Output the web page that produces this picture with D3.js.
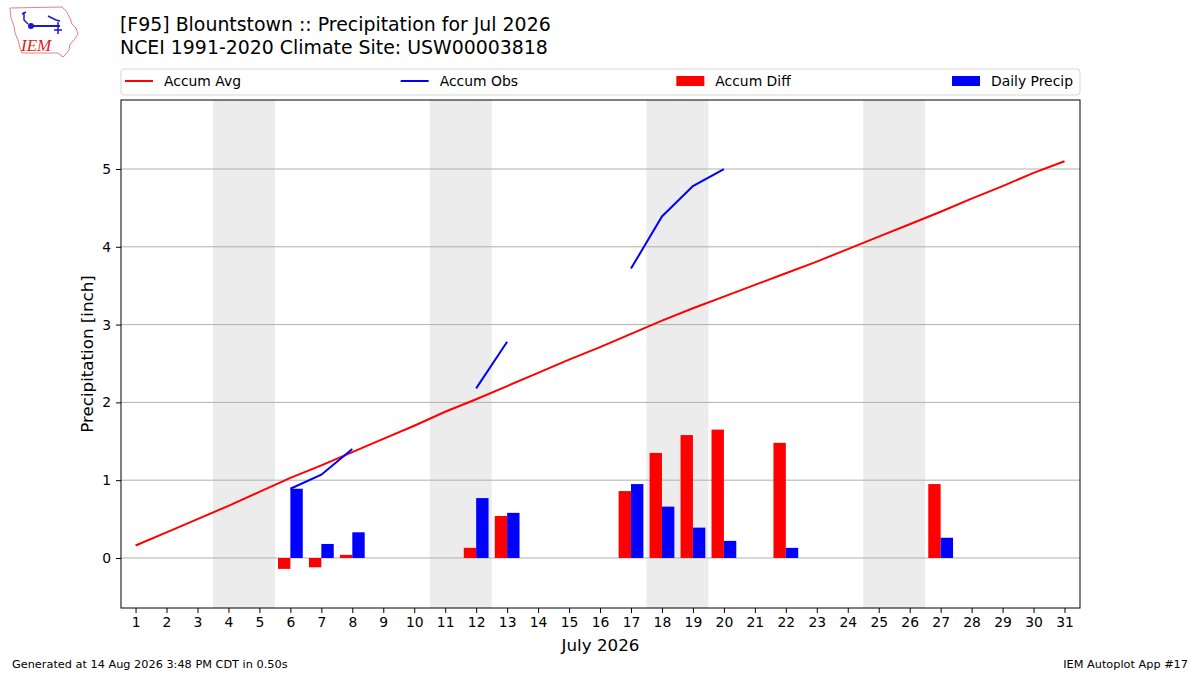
<!DOCTYPE html>
<html lang="en">
<head>
  <meta charset="UTF-8">
  <title>Blountstown Precipitation Jul 2026</title>
  <style>
    body { margin: 0; background: #fff; }
    svg { font-family: "DejaVu Sans", sans-serif; display: block; }
  </style>
</head>
<body>
  <div class="canvas"></div>

  <script src="https://cdnjs.cloudflare.com/ajax/libs/d3/7.8.5/d3.min.js"></script>
  <script>
// day of month, 1..31
const days = d3.range(1, 32);

// climatology accumulated average (inch)
const accumAvg = [0.16, 0.33, 0.50, 0.67, 0.85, 1.03, 1.19, 1.36, 1.53, 1.70,
  1.88, 2.04, 2.21, 2.38, 2.55, 2.71, 2.88, 3.05, 3.21, 3.36,
  3.51, 3.66, 3.81, 3.97, 4.13, 4.29, 4.45, 4.62, 4.78, 4.95, 5.10];

// observed accumulation, only on days with rain (null = no rain)
const accumObs = [null, null, null, null, null, 0.89, 1.07, 1.40, null, null,
  null, 2.18, 2.78, null, null, null, 3.72, 4.39, 4.78, 5.00,
  null, 5.13, null, null, null, null, 5.40, null, null, null, null];

// accumulated departure (obs - avg)
const accumDiff = [null, null, null, null, null, -0.14, -0.12, 0.04, null, null,
  null, 0.13, 0.54, null, null, null, 0.86, 1.35, 1.58, 1.65,
  null, 1.48, null, null, null, null, 0.95, null, null, null, null];

// daily precipitation
const dailyPrecip = [null, null, null, null, null, 0.89, 0.18, 0.33, null, null,
  null, 0.77, 0.58, null, null, null, 0.95, 0.66, 0.39, 0.22,
  null, 0.13, null, null, null, null, 0.26, null, null, null, null];

// weekend days (Sat/Sun pairs)
const weekends = [[4, 5], [11, 12], [18, 19], [25, 26]];

const yTicks = [0, 1, 2, 3, 4, 5];

const legendItems = [
  {label: 'Accum Avg', color: 'red', kind: 'line'},
  {label: 'Accum Obs', color: 'blue', kind: 'line'},
  {label: 'Accum Diff', color: 'red', kind: 'rect'},
  {label: 'Daily Precip', color: 'blue', kind: 'rect'}
];

const W = 1200, H = 675;
const plot = {left: 121, top: 100, right: 1080, bottom: 608};

const svg = d3.select('.canvas')
  .append('svg')
    .attr('width', W)
    .attr('height', H);

svg.append('rect').attr('width', W).attr('height', H).attr('fill', '#fff');

const x = d3.scaleLinear()
  .domain([0.53, 31.5])
  .range([plot.left, plot.right]);

const y = d3.scaleLinear()
  .domain([-0.643, 5.887])
  .range([plot.bottom, plot.top]);

// weekend shading
svg.append('g').selectAll('rect')
  .data(weekends)
  .enter().append('rect')
    .attr('x', d => x(d[0] - 0.5))
    .attr('width', d => x(d[1] + 0.5) - x(d[0] - 0.5))
    .attr('y', plot.top)
    .attr('height', plot.bottom - plot.top)
    .attr('fill', '#ececec');

// horizontal grid
svg.append('g').selectAll('line')
  .data(yTicks)
  .enter().append('line')
    .attr('x1', plot.left).attr('x2', plot.right)
    .attr('y1', d => y(d)).attr('y2', d => y(d))
    .attr('stroke', '#b0b0b0')
    .attr('stroke-width', 1);

// bars
const barW = 0.4;
const diffData = days.map((d, i) => ({day: d, v: accumDiff[i]})).filter(d => d.v !== null);
const dailyData = days.map((d, i) => ({day: d, v: dailyPrecip[i]})).filter(d => d.v !== null);

svg.append('g').selectAll('rect')
  .data(diffData)
  .enter().append('rect')
    .attr('x', d => x(d.day - barW))
    .attr('width', d => x(d.day) - x(d.day - barW))
    .attr('y', d => y(Math.max(0, d.v)))
    .attr('height', d => Math.abs(y(d.v) - y(0)))
    .attr('fill', 'red');

svg.append('g').selectAll('rect')
  .data(dailyData)
  .enter().append('rect')
    .attr('x', d => x(d.day))
    .attr('width', d => x(d.day + barW) - x(d.day))
    .attr('y', d => y(d.v))
    .attr('height', d => y(0) - y(d.v))
    .attr('fill', 'blue');

// lines
const line = d3.line()
  .defined(d => d[1] !== null)
  .x(d => x(d[0]))
  .y(d => y(d[1]));

svg.append('path')
  .datum(days.map((d, i) => [d, accumAvg[i]]))
  .attr('d', line)
  .attr('fill', 'none')
  .attr('stroke', 'red')
  .attr('stroke-width', 2);

svg.append('path')
  .datum(days.map((d, i) => [d, accumObs[i]]))
  .attr('d', line)
  .attr('fill', 'none')
  .attr('stroke', 'blue')
  .attr('stroke-width', 2);

// frame
svg.append('rect')
  .attr('x', plot.left).attr('y', plot.top)
  .attr('width', plot.right - plot.left)
  .attr('height', plot.bottom - plot.top)
  .attr('fill', 'none')
  .attr('stroke', '#000')
  .attr('stroke-width', 1);

// axes
const xAxis = d3.axisBottom(x).tickValues(days).tickSize(5).tickPadding(4);
const yAxis = d3.axisLeft(y).tickValues(yTicks).tickFormat(d3.format('d')).tickSize(5).tickPadding(5);

const xAxisGroup = svg.append('g')
  .attr('transform', `translate(0, ${plot.bottom})`)
  .call(xAxis);
const yAxisGroup = svg.append('g')
  .attr('transform', `translate(${plot.left}, 0)`)
  .call(yAxis);

[xAxisGroup, yAxisGroup].forEach(g => {
  g.select('.domain').remove();
  g.selectAll('text')
    .attr('font-family', '"DejaVu Sans", sans-serif')
    .attr('font-size', 13.9)
    .attr('fill', '#000');
  g.selectAll('line').attr('stroke', '#000');
});

// axis labels
svg.append('text')
  .attr('x', (plot.left + plot.right) / 2)
  .attr('y', 651)
  .attr('text-anchor', 'middle')
  .attr('font-size', 16.7)
  .text('July 2026');

svg.append('text')
  .attr('transform', `translate(93, ${(plot.top + plot.bottom) / 2}) rotate(-90)`)
  .attr('text-anchor', 'middle')
  .attr('font-size', 16.7)
  .text('Precipitation [inch]');

// titles
svg.append('text')
  .attr('x', 120).attr('y', 31)
  .attr('font-size', 18.9)
  .text('[F95] Blountstown :: Precipitation for Jul 2026');
svg.append('text')
  .attr('x', 120).attr('y', 54)
  .attr('font-size', 18.9)
  .text('NCEI 1991-2020 Climate Site: USW00003818');

// legend
const legend = svg.append('g');
legend.append('rect')
  .attr('x', plot.left).attr('y', 69)
  .attr('width', plot.right - plot.left).attr('height', 26)
  .attr('rx', 3)
  .attr('fill', '#fff')
  .attr('stroke', '#d6d6d6');

const legendX = d3.scaleLinear().domain([0, 3]).range([125, 952]);
const items = legend.selectAll('g.item')
  .data(legendItems)
  .enter().append('g')
    .attr('class', 'item')
    .attr('transform', (d, i) => `translate(${legendX(i)}, 81)`);

items.filter(d => d.kind === 'line').append('line')
  .attr('x1', 0).attr('x2', 28)
  .attr('stroke', d => d.color)
  .attr('stroke-width', 2);
items.filter(d => d.kind === 'rect').append('rect')
  .attr('x', 0).attr('y', -5).attr('width', 28).attr('height', 10)
  .attr('fill', d => d.color);
items.append('text')
  .attr('x', 39)
  .attr('dy', '0.36em')
  .attr('font-size', 13.9)
  .text(d => d.label);

// footer
svg.append('text')
  .attr('x', 12).attr('y', 668)
  .attr('font-size', 11.3)
  .text('Generated at 14 Aug 2026 3:48 PM CDT in 0.50s');
svg.append('text')
  .attr('x', 1188).attr('y', 668)
  .attr('text-anchor', 'end')
  .attr('font-size', 11.3)
  .text('IEM Autoplot App #17');

// IEM logo (rough)
const logo = svg.append('g');
logo.append('path')
  .attr('d', 'M10,8 L62,7 L66,11 L70,18 L72,24 L76,28 L78,34 L74,40 L70,44 L69,50 L66,54 L63,57 L58,53 L22,53 L20,48 L18,40 L15,33 L14,26 L11,18 Z')
  .attr('fill', '#fff')
  .attr('stroke', '#e88080')
  .attr('stroke-width', 1);
logo.append('line')
  .attr('x1', 30).attr('y1', 26).attr('x2', 60).attr('y2', 26)
  .attr('stroke', '#1a1acc').attr('stroke-width', 2);
logo.append('circle')
  .attr('cx', 31).attr('cy', 26).attr('r', 3)
  .attr('fill', '#1a1acc');
logo.append('path')
  .attr('d', 'M24,12 L24,20 L28,24 M22,14 L26,12 M48,16 L56,20 L60,21 M58,22 L58,34 M54,30 L62,30')
  .attr('fill', 'none')
  .attr('stroke', '#1a1acc').attr('stroke-width', 1.5);
logo.append('text')
  .attr('x', 21).attr('y', 51)
  .attr('font-family', '"Liberation Serif", serif')
  .attr('font-style', 'italic')
  .attr('font-size', 17)
  .attr('fill', '#dd2222')
  .text('IEM');
  </script>
</body>
</html>
